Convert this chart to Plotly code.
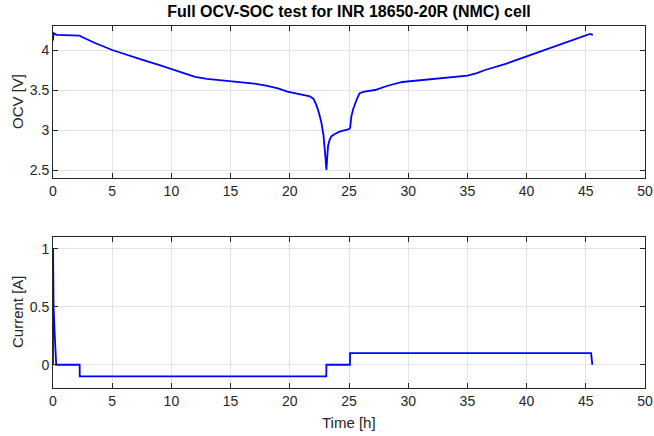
import plotly.graph_objects as go

# ---- data ----
ocv_time_h = [0, 0.05, 0.3, 1.0, 2.25, 2.5, 3.5, 5, 6, 7.5, 9, 10, 11, 12, 13, 15, 17, 18, 19,
              19.8, 20.5, 21.2, 21.7, 22.0, 22.25, 22.45, 22.67, 22.85, 22.95, 23.03, 23.09,
              23.15, 23.23, 23.35, 23.5, 23.8, 24.2, 24.6, 25.0, 25.1, 25.2, 25.35, 25.5, 25.7,
              25.9, 26.3, 27.2, 28.2, 29.5, 31, 33, 35, 35.8, 36.5, 38.3, 40, 42, 44, 45.35, 45.6]
ocv_volt = [4.12, 4.21, 4.19, 4.185, 4.18, 4.16, 4.09, 4.0, 3.95, 3.88, 3.81, 3.76, 3.71, 3.665,
            3.64, 3.61, 3.58, 3.555, 3.52, 3.48, 3.455, 3.435, 3.42, 3.39, 3.31, 3.22, 3.09,
            2.93, 2.80, 2.62, 2.50, 2.66, 2.80, 2.87, 2.92, 2.95, 2.98, 2.995, 3.01, 3.03, 3.17,
            3.26, 3.33, 3.40, 3.46, 3.48, 3.50, 3.55, 3.60, 3.62, 3.645, 3.68, 3.71, 3.75, 3.83,
            3.92, 4.03, 4.13, 4.20, 4.19]

cur_time_h = [0, 0.005, 0.05, 0.15, 0.27, 2.25, 2.26, 23.08, 23.09, 25.08, 25.09, 45.45, 45.55]
cur_amp = [0, 1.0, 0.5, 0.25, 0.0, 0.0, -0.1, -0.1, 0.0, 0.0, 0.1, 0.1, 0.0]

x_ticks = [0, 5, 10, 15, 20, 25, 30, 35, 40, 45, 50]
ocv_ticks = [2.5, 3, 3.5, 4]
cur_ticks = [0, 0.5, 1]

title_text = "Full OCV-SOC test for INR 18650-20R (NMC) cell"

# ---- figure ----
W, H = 654, 436
ML, MR, MT, MB = 53, 9, 26, 48
ph = H - MT - MB

def py(px):
    return (H - MB - px) / ph

FONT = "Liberation Sans, Arial, Helvetica, sans-serif"
AX = "#262626"
GRID = "#e3e3e3"

fig = go.Figure()
fig.add_trace(go.Scatter(x=ocv_time_h, y=ocv_volt, mode="lines",
                         line=dict(color="#0000ff", width=1.8), xaxis="x", yaxis="y",
                         showlegend=False, hoverinfo="skip"))
fig.add_trace(go.Scatter(x=cur_time_h, y=cur_amp, mode="lines",
                         line=dict(color="#0000ff", width=1.8), xaxis="x2", yaxis="y2",
                         showlegend=False, hoverinfo="skip"))

common_x = dict(range=[0, 50], tickvals=x_ticks, showgrid=True, gridcolor=GRID, gridwidth=1,
                zeroline=False, showline=True, linecolor=AX, linewidth=1, mirror="allticks",
                ticks="inside", ticklen=5, tickcolor=AX, automargin=False,
                tickfont=dict(family=FONT, size=14, color=AX), domain=[0, 1])
common_y = dict(showgrid=True, gridcolor=GRID, gridwidth=1, zeroline=False, showline=True,
                linecolor=AX, linewidth=1, mirror="allticks", ticks="inside", ticklen=5,
                tickcolor=AX, automargin=False, tickfont=dict(family=FONT, size=14, color=AX))

fig.update_layout(
    width=W, height=H,
    margin=dict(l=ML, r=MR, t=MT, b=MB),
    paper_bgcolor="white", plot_bgcolor="white",
    xaxis=dict(**common_x, anchor="y"),
    yaxis=dict(**common_y, range=[2.4, 4.3], tickvals=ocv_ticks,
               ticktext=["2.5", "3", "3.5", "4"], domain=[py(178), 1], anchor="x"),
    xaxis2=dict(**common_x, anchor="y2"),
    yaxis2=dict(**common_y, range=[-0.2, 1.1], tickvals=cur_ticks,
                ticktext=["0", "0.5", "1"], domain=[0, py(237)], anchor="x2"),
    title=dict(text="<b>" + title_text + "</b>", x=(ML + (W - MR)) / 2 / W, xanchor="center",
               y=1 - 11 / H, yanchor="middle", yref="container", automargin=False,
               font=dict(family=FONT, size=16, color="black")),
    annotations=[
        dict(text="OCV [V]", xref="paper", yref="paper", x=(17 - ML) / (W - ML - MR),
             y=py(102), textangle=-90, showarrow=False, xanchor="center", yanchor="middle",
             font=dict(family=FONT, size=15, color=AX)),
        dict(text="Current [A]", xref="paper", yref="paper", x=(17 - ML) / (W - ML - MR),
             y=py(312), textangle=-90, showarrow=False, xanchor="center", yanchor="middle",
             font=dict(family=FONT, size=15, color=AX)),
        dict(text="Time [h]", xref="paper", yref="paper", x=0.5, y=py(422),
             showarrow=False, xanchor="center", yanchor="middle",
             font=dict(family=FONT, size=15, color=AX)),
    ],
)

fig.write_html("out.html")
